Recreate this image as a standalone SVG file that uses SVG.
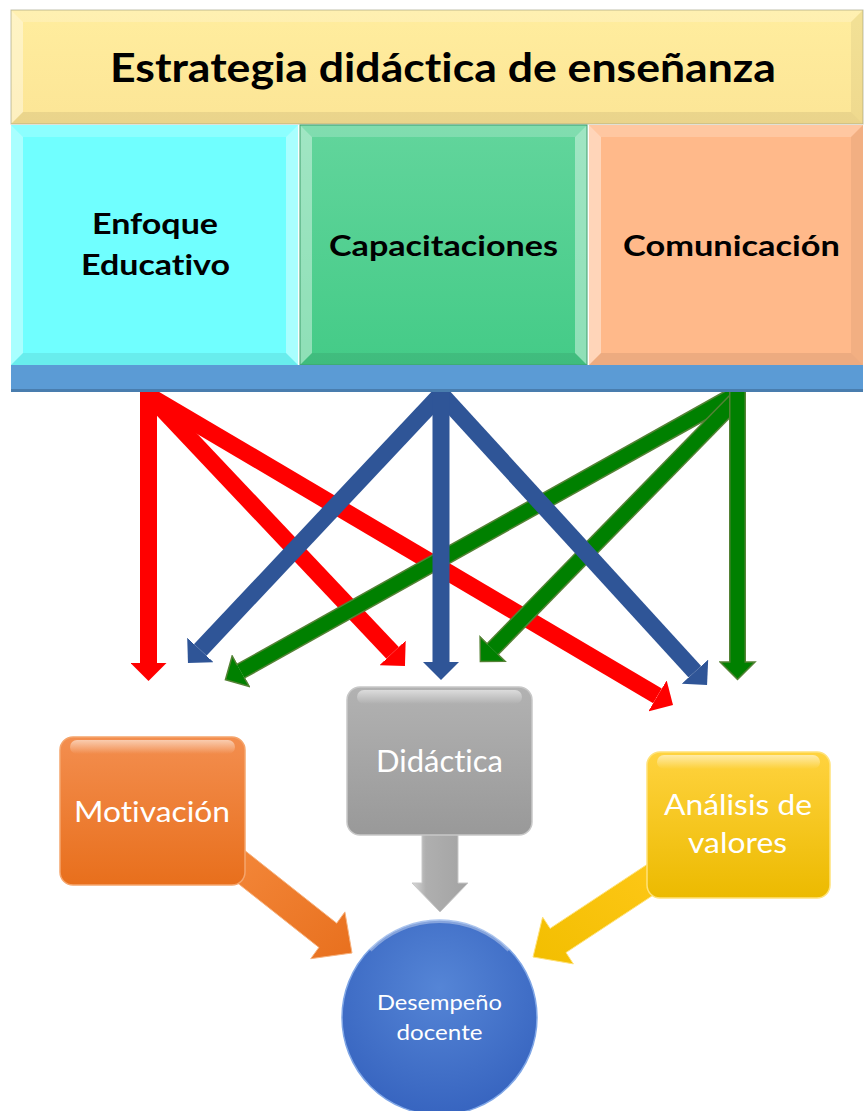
<svg xmlns="http://www.w3.org/2000/svg" width="864" height="1111" viewBox="0 0 864 1111">
  <defs>
    <style>
      .bl{fill:#ffffff;opacity:.4}
      .bt{fill:#ffffff;opacity:.2}
      .br{fill:#000000;opacity:.05}
      .bb{fill:#000000;opacity:.07}
      .edge{fill:none;stroke:#9a9a7a;stroke-width:1;opacity:.6}
      .ht{font-family:Lato,"Liberation Sans",sans-serif;font-weight:bold;fill:#000;text-anchor:middle;font-variant-ligatures:none}
      .wt{font-family:Lato,"Liberation Sans",sans-serif;fill:#fff;text-anchor:middle;font-variant-ligatures:none}
      .red{stroke:#FF0000;stroke-width:17;fill:none;marker-end:url(#hRed)}
      .blue{stroke:#2F5597;stroke-width:17;fill:none;marker-end:url(#hBlue)}
      .gOut{stroke:#548235;stroke-width:17;fill:none;marker-end:url(#hGreen)}
      .gIn{stroke:#008000;stroke-width:14;fill:none}
    </style>
    <marker id="hRed" markerUnits="userSpaceOnUse" viewBox="0 -18 18 36" refX="0" refY="0" markerWidth="18" markerHeight="36" orient="auto">
      <path d="M0,-18 L18,0 L0,18 z" fill="#FF0000"/>
    </marker>
    <marker id="hBlue" markerUnits="userSpaceOnUse" viewBox="0 -18 18 36" refX="0" refY="0" markerWidth="18" markerHeight="36" orient="auto">
      <path d="M0,-18 L18,0 L0,18 z" fill="#2F5597"/>
    </marker>
    <marker id="hGreen" markerUnits="userSpaceOnUse" viewBox="-1 -19 21 38" refX="0" refY="0" markerWidth="21" markerHeight="38" orient="auto">
      <path d="M0,-7 L0,-17.5 L17.5,0 L0,17.5 L0,7" fill="#008000" stroke="#548235" stroke-width="1.5" stroke-linejoin="miter"/>
    </marker>
    <linearGradient id="gYel" x1="0" y1="0" x2="0" y2="1">
      <stop offset="0" stop-color="#FFED9E"/>
      <stop offset="1" stop-color="#FCE596"/>
    </linearGradient>
    <linearGradient id="gGrn" x1="0" y1="0" x2="0" y2="1">
      <stop offset="0" stop-color="#62D59C"/>
      <stop offset="1" stop-color="#44CB87"/>
    </linearGradient>
    <linearGradient id="gOrg" x1="0" y1="0" x2="0" y2="1">
      <stop offset="0" stop-color="#F38E4F"/>
      <stop offset="1" stop-color="#E86F1C"/>
    </linearGradient>
    <linearGradient id="gOrgA" x1="0" y1="0" x2="1" y2="1">
      <stop offset="0" stop-color="#F58A3D"/>
      <stop offset="1" stop-color="#E8701E"/>
    </linearGradient>
    <linearGradient id="gGry" x1="0" y1="0" x2="0" y2="1">
      <stop offset="0" stop-color="#B2B2B2"/>
      <stop offset="1" stop-color="#999999"/>
    </linearGradient>
    <linearGradient id="gGryA" x1="0" y1="0" x2="1" y2="0">
      <stop offset="0" stop-color="#D8D8D8"/>
      <stop offset="0.25" stop-color="#AFAFAF"/>
      <stop offset="1" stop-color="#A3A3A3"/>
    </linearGradient>
    <linearGradient id="gGld" x1="0" y1="0" x2="0" y2="1">
      <stop offset="0" stop-color="#FFD33F"/>
      <stop offset="1" stop-color="#ECBA00"/>
    </linearGradient>
    <linearGradient id="gGldA" x1="1" y1="0" x2="0" y2="1">
      <stop offset="0" stop-color="#FFC819"/>
      <stop offset="1" stop-color="#F2BE00"/>
    </linearGradient>
    <radialGradient id="gCir" cx="0.5" cy="0.35" r="0.7">
      <stop offset="0" stop-color="#5585D6"/>
      <stop offset="1" stop-color="#3562BE"/>
    </radialGradient>
    <linearGradient id="gGloss" x1="0" y1="0" x2="0" y2="1">
      <stop offset="0" stop-color="#ffffff" stop-opacity=".55"/>
      <stop offset="1" stop-color="#ffffff" stop-opacity="0"/>
    </linearGradient>
  </defs>

  <rect x="0" y="0" width="864" height="1111" fill="#ffffff"/>

  <g id="connectors">
    <!-- red from Enfoque Educativo -->
    <line class="red" x1="148" y1="394" x2="392.6" y2="652.9"/>
    <line class="red" x1="146" y1="394" x2="657.5" y2="695.9"/>
    <line class="red" x1="148.5" y1="385" x2="148.5" y2="663"/>
    <!-- green from Comunicación -->
    <line class="gOut" x1="736" y1="394" x2="240.7" y2="671.2"/>
    <line class="gIn" x1="736" y1="394" x2="240.7" y2="671.2"/>
    <line class="gOut" x1="740" y1="396" x2="492.6" y2="649.1"/>
    <line class="gIn" x1="740" y1="396" x2="492.6" y2="649.1"/>
    <line class="gOut" x1="737.5" y1="385" x2="737.5" y2="662"/>
    <line class="gIn" x1="737.5" y1="385" x2="737.5" y2="662"/>
    <!-- blue from Capacitaciones -->
    <line class="blue" x1="441" y1="394" x2="200.3" y2="649.9"/>
    <line class="blue" x1="441" y1="394" x2="694.9" y2="671.7"/>
    <line class="blue" x1="441" y1="385" x2="441" y2="662"/>
    <!-- block arrows to Desempeño docente -->
    <polygon id="arrowMotivacion" points="228.9,837.9 336.7,923.2 344.9,911.9 352,953 310.7,958.7 318.9,947.4 211.1,862.1" fill="url(#gOrgA)" stroke="#F7B27E" stroke-width="1"/>
    <polygon id="arrowDidactica" points="422,830 458,830 458,883 468,883 440,912 412,883 422,883" fill="url(#gGryA)" stroke="#C8C8C8" stroke-width="1"/>
    <polygon id="arrowAnalisis" points="657,857.9 550.1,928.4 542.6,917.1 533,957 573.4,963.9 566,952.6 673,882.1" fill="url(#gGldA)" stroke="#FFE27A" stroke-width="1"/>
  </g>

  <g id="header">
    <rect x="11" y="10" width="852" height="114" fill="url(#gYel)"/>
    <polygon class="bl" points="11,10 23,22 23,112 11,124"/>
    <polygon class="bt" points="11,10 863,10 851,22 23,22"/>
    <polygon class="br" points="863,10 863,124 851,112 851,22"/>
    <polygon class="bb" points="11,124 23,112 851,112 863,124"/>
    <rect x="11" y="10" width="852" height="114" class="edge"/>
    <text class="ht" x="443" y="82" font-size="41" textLength="666" lengthAdjust="spacingAndGlyphs">Estrategia didáctica de enseñanza</text>
  </g>

  <g id="enfoque">
    <rect x="11" y="125" width="287" height="240" fill="#70FFFF"/>
    <polygon class="bl" points="11,125 23,137 23,353 11,365"/>
    <polygon class="bt" points="11,125 298,125 286,137 23,137"/>
    <polygon class="bl" points="298,125 298,365 286,353 286,137"/>
    <polygon class="bb" points="11,365 23,353 286,353 298,365"/>
    <text class="ht" x="155" y="234" font-size="29" textLength="126" lengthAdjust="spacingAndGlyphs">Enfoque</text>
    <text class="ht" x="155.5" y="275" font-size="29" textLength="149" lengthAdjust="spacingAndGlyphs">Educativo</text>
  </g>

  <g id="capacitaciones">
    <rect x="300" y="125" width="287" height="240" fill="url(#gGrn)"/>
    <polygon class="bl" points="300,125 312,137 312,353 300,365"/>
    <polygon class="bt" points="300,125 587,125 575,137 312,137"/>
    <polygon class="bl" points="587,125 587,365 575,353 575,137"/>
    <polygon class="bb" points="300,365 312,353 575,353 587,365"/>
    <rect x="300" y="125" width="287" height="240" fill="none" stroke="#3E9E6C" stroke-width="1"/>
    <text class="ht" x="443.5" y="256" font-size="29" textLength="229" lengthAdjust="spacingAndGlyphs">Capacitaciones</text>
  </g>

  <g id="comunicacion">
    <rect x="589" y="125" width="274" height="240" fill="#FFB98A"/>
    <polygon class="bl" points="589,125 601,137 601,353 589,365"/>
    <polygon class="bt" points="589,125 863,125 851,137 601,137"/>
    <polygon class="br" points="863,125 863,365 851,353 851,137"/>
    <polygon class="bb" points="589,365 601,353 851,353 863,365"/>
    <text class="ht" x="731.5" y="256" font-size="29" textLength="217" lengthAdjust="spacingAndGlyphs">Comunicación</text>
  </g>

  <g id="bar">
    <rect x="11" y="365" width="852" height="27" fill="#5B9BD5"/>
    <rect x="11" y="389" width="852" height="3" fill="#41719C" opacity=".7"/>
  </g>

  <g id="motivacion">
    <rect x="60" y="737" width="185" height="148" rx="13" fill="url(#gOrg)" stroke="#F5A56C" stroke-width="1.5"/>
    <rect x="70" y="740" width="165" height="14" rx="7" fill="url(#gGloss)"/>
    <text class="wt" x="152" y="822" font-size="29" textLength="156" lengthAdjust="spacingAndGlyphs">Motivación</text>
  </g>

  <g id="didactica">
    <rect x="347" y="687" width="185" height="148" rx="13" fill="url(#gGry)" stroke="#C8C8C8" stroke-width="1.5"/>
    <rect x="357" y="690" width="165" height="14" rx="7" fill="url(#gGloss)"/>
    <text class="wt" x="439.5" y="772" font-size="30" textLength="127" lengthAdjust="spacingAndGlyphs">Didáctica</text>
  </g>

  <g id="analisis">
    <rect x="647" y="752" width="183" height="146" rx="13" fill="url(#gGld)" stroke="#FFE27A" stroke-width="1.5"/>
    <rect x="657" y="755" width="163" height="14" rx="7" fill="url(#gGloss)"/>
    <text class="wt" x="738" y="815" font-size="29" textLength="148" lengthAdjust="spacingAndGlyphs">Análisis de</text>
    <text class="wt" x="737.5" y="853" font-size="29" textLength="99" lengthAdjust="spacingAndGlyphs">valores</text>
  </g>

  <g id="desempeno">
    <circle cx="439.5" cy="1017.5" r="97.5" fill="url(#gCir)" stroke="#7FA6E6" stroke-width="1.5"/>
    <path d="M370,950 A97.5,97.5 0 0 1 509,950" fill="none" stroke="#ffffff" stroke-opacity=".35" stroke-width="4"/>
    <text class="wt" x="439.5" y="1010" font-size="21" textLength="125" lengthAdjust="spacingAndGlyphs">Desempeño</text>
    <text class="wt" x="439.5" y="1040" font-size="21" textLength="86" lengthAdjust="spacingAndGlyphs">docente</text>
  </g>
</svg>
